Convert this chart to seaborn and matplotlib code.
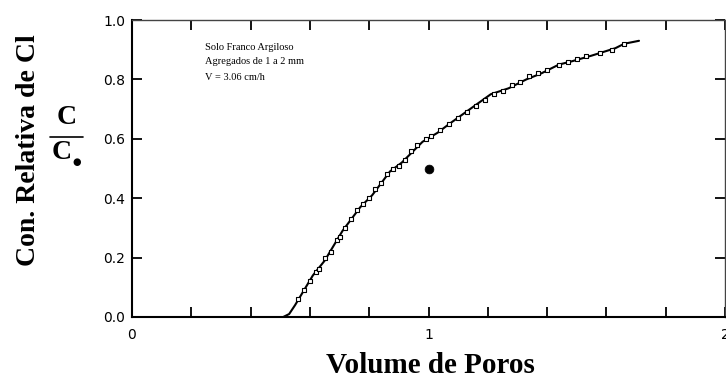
import matplotlib
matplotlib.use("Agg")
import matplotlib.pyplot as plt
import seaborn as sns
import pandas as pd
from matplotlib.ticker import MultipleLocator

# ---- data ----
curve_x = [0.51, 0.53, 0.55, 0.58, 0.61, 0.65, 0.68, 0.71, 0.74, 0.77, 0.81, 0.84, 0.87, 0.91,
           0.94, 0.98, 1.03, 1.07, 1.14, 1.21, 1.27, 1.33, 1.38, 1.44, 1.48, 1.55, 1.63, 1.66, 1.71]
curve_y = [0.0, 0.01, 0.04, 0.09, 0.14, 0.19, 0.24, 0.29, 0.33, 0.37, 0.41, 0.45, 0.49, 0.52,
           0.55, 0.59, 0.62, 0.65, 0.70, 0.75, 0.77, 0.80, 0.82, 0.85, 0.86, 0.88, 0.905, 0.92, 0.93]

obs_x = [0.56, 0.58, 0.60, 0.62, 0.63, 0.65, 0.67, 0.69, 0.70, 0.72, 0.74, 0.76, 0.78, 0.80, 0.82,
         0.84, 0.86, 0.88, 0.90, 0.92, 0.94, 0.96, 0.99, 1.01, 1.04, 1.07, 1.10, 1.13, 1.16, 1.19,
         1.22, 1.25, 1.28, 1.31, 1.34, 1.37, 1.40, 1.44, 1.47, 1.50, 1.53, 1.58, 1.62, 1.66]
obs_y = [0.06, 0.09, 0.12, 0.15, 0.16, 0.20, 0.22, 0.26, 0.27, 0.30, 0.33, 0.36, 0.38, 0.40, 0.43,
         0.45, 0.48, 0.50, 0.51, 0.53, 0.56, 0.58, 0.60, 0.61, 0.63, 0.65, 0.67, 0.69, 0.71, 0.73,
         0.75, 0.76, 0.78, 0.79, 0.81, 0.82, 0.83, 0.85, 0.86, 0.87, 0.88, 0.89, 0.90, 0.92]

outlier_x = [1.0]
outlier_y = [0.50]

x_major = [0, 1, 2]
y_ticks = [0.0, 0.2, 0.4, 0.6, 0.8, 1.0]
y_ticklabels = ["0.0", "0.2", "0.4", "0.6", "0.8", "1.0"]

notes = ["Solo Franco Argiloso", "Agregados de 1 a 2 mm", "V = 3.06 cm/h"]

sns.set_theme(style="white")
plt.rcParams['font.family'] = ['DejaVu Sans']
plt.rcParams['text.color'] = 'black'
plt.rcParams['xtick.color'] = 'black'
plt.rcParams['ytick.color'] = 'black'

W, H = 726, 381
fig = plt.figure(figsize=(W / 100, H / 100), dpi=100)
ax = fig.add_axes([132 / W, 1 - 317 / H, 593 / W, 297 / H])

curve = pd.DataFrame({"x": curve_x, "y": curve_y})
obs = pd.DataFrame({"x": obs_x, "y": obs_y})
out = pd.DataFrame({"x": outlier_x, "y": outlier_y})

sns.lineplot(data=curve, x="x", y="y", ax=ax, color="black", linewidth=1.5, sort=True)
sns.scatterplot(data=obs, x="x", y="y", ax=ax, marker="s", s=7, facecolor="white",
                edgecolor="black", linewidth=0.8, zorder=3)
sns.scatterplot(data=out, x="x", y="y", ax=ax, marker="o", s=40, color="black",
                edgecolor="black", zorder=4)

ax.set_xlim(0, 2)
ax.set_ylim(0, 1.0)
ax.set_xticks(x_major)
ax.set_xticklabels([str(v) for v in x_major], fontsize=10)
ax.xaxis.set_minor_locator(MultipleLocator(0.2))
ax.set_yticks(y_ticks)
ax.set_yticklabels(y_ticklabels, fontsize=10)
ax.tick_params(axis="both", which="both", direction="in", length=7, width=1.3,
               color="black", labelcolor="black",
               bottom=True, top=True, left=True, right=True,
               labelbottom=True, labelleft=True, labeltop=False, labelright=False)
ax.tick_params(axis="x", which="major", pad=8)
ax.tick_params(axis="y", which="major", pad=5)
ax.set_xlabel("")
ax.set_ylabel("")
for s in ["top", "right"]:
    ax.spines[s].set_visible(True)
    ax.spines[s].set_color("#444444")
    ax.spines[s].set_linewidth(1.0)
for s in ["left", "bottom"]:
    ax.spines[s].set_color("black")
    ax.spines[s].set_linewidth(1.5)
ax.set_facecolor("white")

for i, t in enumerate(notes):
    fig.text(205 / W, 1 - (47 + 15 * i) / H, t, fontsize=7.5, family="Liberation Serif",
             va="center", ha="left", color="black")

fig.text(29 / W, 1 - 150 / H, "Con. Relativa de Cl", rotation=90, fontsize=20,
         family="Liberation Serif", fontweight="bold", ha="center", va="center", color="black")
fig.text(67 / W, 1 - 117 / H, "C", fontsize=20, family="Liberation Serif",
         fontweight="bold", ha="center", va="center", color="black")
fig.add_artist(plt.Line2D([50 / W, 83 / W], [1 - 137 / H, 1 - 137 / H], color="black",
                          linewidth=1.2, transform=fig.transFigure))
fig.text(62 / W, 1 - 153 / H, "C", fontsize=20, family="Liberation Serif",
         fontweight="bold", ha="center", va="center", color="black")
fig.text(77 / W, 1 - 162 / H, "\u25CF", fontsize=7, family="DejaVu Sans",
         ha="center", va="center", color="black")

fig.text(430 / W, 1 - 373 / H, "Volume de Poros", fontsize=21, family="Liberation Serif",
         fontweight="bold", ha="center", va="baseline", color="black")

fig.savefig("out.png", dpi=100, facecolor="white")
